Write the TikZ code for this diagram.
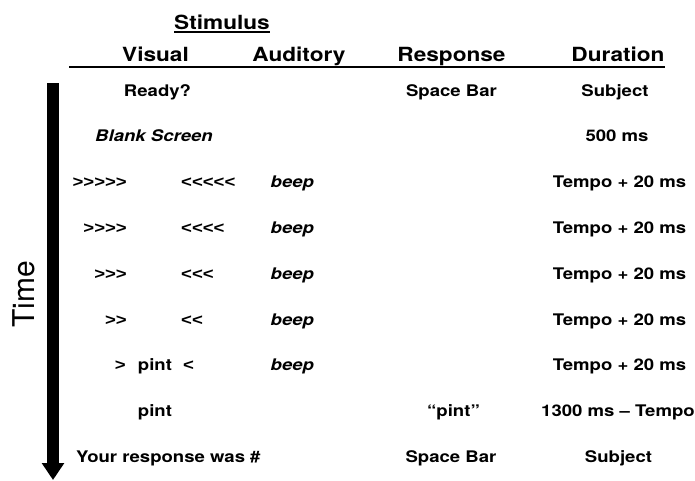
\documentclass[tikz,border=0pt]{standalone}
\usepackage{fontspec}
\setmainfont{TeX Gyre Heros}[FakeStretch=1.16]
\newfontfamily\timefont{TeX Gyre Heros}
\newfontfamily\chevfont{Liberation Sans}[FakeStretch=1.16]
\usetikzlibrary{arrows.meta,calc}
\tikzset{
  hdr/.style={font=\fontsize{19.5}{22}\selectfont\bfseries, anchor=base, inner sep=0pt},
  cell/.style={font=\fontsize{16}{18}\selectfont\bfseries, anchor=base, inner sep=0pt},
  celli/.style={cell, font=\fontsize{16}{18}\selectfont\bfseries\itshape},
  chev/.style={cell, font=\chevfont\fontsize{16}{18}\selectfont\bfseries},
  rule/.style={line width=2.5pt},
  timearrow/.style={line width=12pt, -{Triangle[width=21.5pt,length=17pt]}}
}
\begin{document}
\begin{tikzpicture}[x=1pt,y=-1pt]
\useasboundingbox (0,0) rectangle (695,480);
% headers
\node[hdr] (stim) at (222,29.3) {Stimulus};
\draw[line width=2pt] ([yshift=-3pt]stim.base west) -- ([yshift=-3pt]stim.base east);
\node[hdr] (hvis) at (155.5,61.7) {Visual};
\node[hdr] (haud) at (299,61.7) {Auditory};
\node[hdr] (hres) at (451.5,61.7) {Response};
\node[hdr] (hdur) at (618,61.7) {Duration};
\coordinate (hl) at (69,67);
\coordinate (hr) at (665,67);
\draw[rule] (hl) -- (hr);
% time arrow
\coordinate (ttop) at (53,83);
\coordinate (tbot) at (53,480);
\draw[timearrow] (ttop) -- (tbot);
\node[inner sep=0pt, rotate=90, font=\timefont\fontsize{30}{32}\selectfont] (time) at (23.5,294.5) {Time};
% row 1
\node[cell] (r1v) at (157.5,96) {Ready?};
\node[cell] (r1r) at (451.5,96) {Space Bar};
\node[cell] (r1d) at (615,96) {Subject};
% row 2
\node[celli] (r2v) at (154,141.8) {Blank Screen};
\node[cell] (r2d) at (617,141.8) {500 ms};
% row 3
\node[chev, anchor=base east] (r3a) at (127,187.6) {>{}>{}>{}>{}>};
\node[chev, anchor=base west] (r3b) at (181,187.6) {<{}<{}<{}<{}<};
\node[celli, anchor=base west] (r3c) at (270.5,187.6) {beep};
\node[cell] (r3d) at (619.5,187.6) {Tempo + 20 ms};
% row 4
\node[chev, anchor=base east] (r4a) at (127,233.4) {>{}>{}>{}>};
\node[chev, anchor=base west] (r4b) at (181,233.4) {<{}<{}<{}<};
\node[celli, anchor=base west] (r4c) at (270.5,233.4) {beep};
\node[cell] (r4d) at (619.5,233.4) {Tempo + 20 ms};
% row 5
\node[chev, anchor=base east] (r5a) at (127,279.2) {>{}>{}>};
\node[chev, anchor=base west] (r5b) at (181,279.2) {<{}<{}<};
\node[celli, anchor=base west] (r5c) at (270.5,279.2) {beep};
\node[cell] (r5d) at (619.5,279.2) {Tempo + 20 ms};
% row 6
\node[chev, anchor=base east] (r6a) at (127,325) {>{}>};
\node[chev, anchor=base west] (r6b) at (181,325) {<{}<};
\node[celli, anchor=base west] (r6c) at (270.5,325) {beep};
\node[cell] (r6d) at (619.5,325) {Tempo + 20 ms};
% row 7
\node[chev, anchor=base east] (r7a) at (126,370.8) {>};
\node[cell] (r7p) at (155,370.8) {pint};
\node[chev, anchor=base west] (r7b) at (183,370.8) {<};
\node[celli, anchor=base west] (r7c) at (270.5,370.8) {beep};
\node[cell] (r7d) at (619.5,370.8) {Tempo + 20 ms};
% row 8
\node[cell] (r8v) at (155,416.6) {pint};
\node[cell] (r8r) at (453.5,416.6) {“pint”};
\node[cell] (r8d) at (618,416.6) {1300 ms -- Tempo};
% row 9
\node[cell, anchor=base west] (r9v) at (76,462.4) {Your response was \#};
\node[cell] (r9r) at (451,462.4) {Space Bar};
\node[cell] (r9d) at (618.5,462.4) {Subject};
\end{tikzpicture}
\end{document}
